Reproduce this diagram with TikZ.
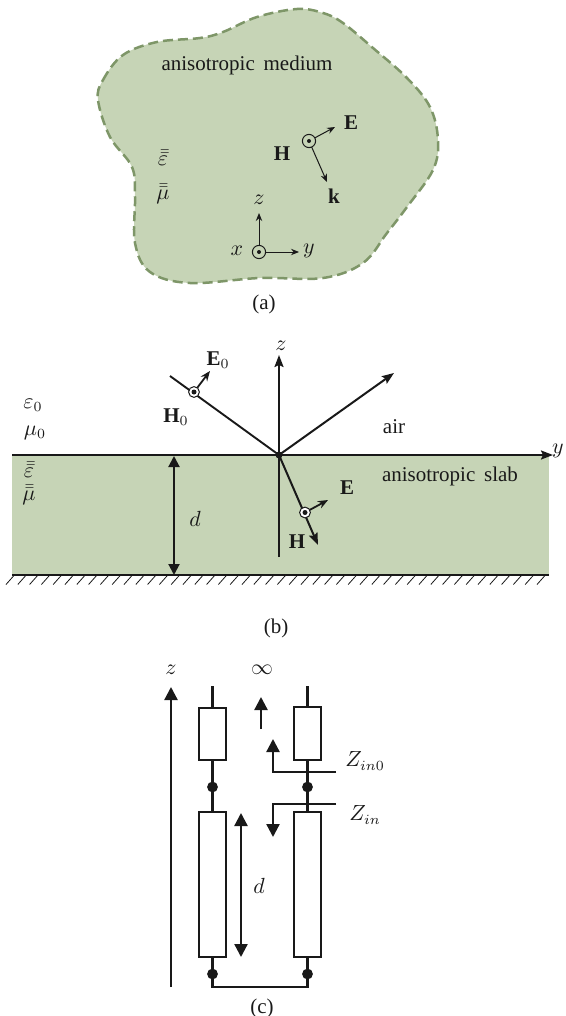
\documentclass[tikz,border=0pt]{standalone}
\usepackage{amsmath}
\usepackage{fontspec}
\setmainfont{Liberation Serif}
\usetikzlibrary{arrows.meta}
\definecolor{slab}{RGB}{198,212,182}
\definecolor{dashc}{RGB}{126,150,104}
\definecolor{ink}{RGB}{25,25,25}
\newcommand{\dbar}[1]{\bar{\bar{#1}}}
\tikzset{
  x=0.5pt,y=-0.5pt,
  lab/.style={inner sep=0pt,text=ink,font=\fontsize{10.5}{12}\selectfont},
  thinar/.style={draw=ink,line width=0.5pt,-{Stealth[length=4pt,width=3.2pt]}},
  medar/.style={draw=ink,line width=0.9pt,-{Stealth[length=5pt,width=4pt]}},
  bigar/.style={draw=ink,line width=1pt,-{Stealth[length=6pt,width=4.5pt,inset=1pt]}},
  fatar/.style={draw=ink,line width=1.15pt,-{Triangle[length=6.5pt,width=6.5pt]}},
  bothar/.style={draw=ink,line width=1pt,{Triangle[length=5.5pt,width=5.5pt]}-{Triangle[length=5.5pt,width=5.5pt]}},
  fatboth/.style={draw=ink,line width=1.15pt,{Triangle[length=6.5pt,width=6.5pt]}-{Triangle[length=6.5pt,width=6.5pt]}},
  wire/.style={draw=ink,line width=1.2pt},
  res/.style={draw=ink,line width=1.2pt,fill=white,inner sep=0pt,outer sep=0pt,minimum width=13.5pt},
  dotc/.style={circle,fill=ink,inner sep=0pt,outer sep=0pt,minimum size=5.4pt},
  ringa/.style={circle,draw=ink,line width=0.5pt,inner sep=0pt,outer sep=0pt,minimum size=6.6pt},
  ringb/.style={circle,draw=ink,line width=0.5pt,fill=white,inner sep=0pt,outer sep=0pt,minimum size=5.4pt},
  centre/.style={circle,fill=ink,inner sep=0pt,minimum size=2pt},
}
\begin{document}
\begin{tikzpicture}
\useasboundingbox (0,0) rectangle (566,1016);
% ---------- (a)
\draw[fill=slab,draw=dashc,line width=1.25pt,dash pattern=on 5pt off 2.5pt]
 plot[smooth cycle,tension=0.6] coordinates {
 (98,100) (103,80) (123,55) (157,42) (200,38) (223,32) (257,17) (297,9) (323,13) (343,23)
 (373,48) (407,78) (430,107) (438,140) (433,170) (407,207) (387,233) (363,263) (323,278) (260,278)
 (190,283) (150,272) (135,243) (135,197) (132,167) (110,137)};
\node[lab] (amed) at (247,65) {anisotropic\, medium};
\node[lab] (aeps) at (163,158) {$\dbar{\varepsilon}$};
\node[lab] (amu) at (163,194) {$\dbar{\mu}$};
\node[ringa] (ah) at (309,141) {};
\node[centre] at (ah) {};
\coordinate (aE) at (335,127);
\coordinate (ak) at (327,182);
\draw[thinar] (ah) -- (aE);
\draw[thinar] (ah) -- (ak);
\node[lab] (aEl) at (351,123) {$\mathbf{E}$};
\node[lab] (aHl) at (282,154) {$\mathbf{H}$};
\node[lab] (akl) at (334,196) {$\mathbf{k}$};
\node[ringa] (ax) at (259,252) {};
\node[centre] at (ax) {};
\coordinate (az) at (259,213);
\coordinate (ay) at (299,252);
\draw[thinar] (ax) -- (az);
\draw[thinar] (ax) -- (ay);
\node[lab] (azl) at (259,200) {$z$};
\node[lab] (ayl) at (309,251) {$y$};
\node[lab] (axl) at (237,251) {$x$};
\node[lab] (capa) at (264,304) {(a)};
% ---------- (b)
\fill[slab] (12,455) rectangle (549,575);
\coordinate (gl) at (12,575);
\coordinate (gr) at (549,575);
\draw[draw=ink,line width=0.8pt] (gl) -- (gr);
\foreach \i in {0,...,45} {
  \draw[draw=ink,line width=0.4pt] ({14+11.8*\i},575.5) -- ++(-8,9);
}
\coordinate (yl) at (12,455);
\coordinate (yr) at (553,455);
\coordinate (O) at (279,455);
\draw[bigar] (yl) -- (yr);
\coordinate (zt) at (279,355);
\coordinate (zb) at (279,557);
\draw[bigar] (zb) -- (zt);
\coordinate (inc) at (170,376);
\coordinate (refl) at (394,373);
\coordinate (trans) at (318,545);
\draw[wire,line width=0.95pt] (inc) -- (O);
\draw[bigar] (O) -- (refl);
\draw[bigar] (O) -- (trans);
\node[circle,fill=ink,inner sep=0pt,minimum size=3.5pt] at (O) {};
\node[ringb] (h0) at (194,392) {};
\node[centre,minimum size=2.5pt] at (h0) {};
\coordinate (e0) at (210,371);
\draw[medar] (h0) -- (e0);
\node[ringb] (h1) at (305,512.5) {};
\node[centre,minimum size=2.5pt] at (h1) {};
\coordinate (e1) at (328,500);
\draw[medar] (h1) -- (e1);
\coordinate (dt) at (174,456);
\coordinate (db) at (174,575);
\draw[bothar] (dt) -- (db);
\node[lab] (bz) at (281,346) {$z$};
\node[lab] (by) at (558,451) {$y$};
\node[lab] (bE0) at (218,360) {$\mathbf{E}_0$};
\node[lab] (bH0) at (176,417) {$\mathbf{H}_0$};
\node[lab] (be0) at (33,405) {$\varepsilon_0$};
\node[lab] (bm0) at (35,433) {$\mu_0$};
\node[lab] (bair) at (394,427) {air};
\node[lab] (bslab) at (450,476) {anisotropic\, slab};
\node[lab] (beps) at (29,470) {$\dbar{\varepsilon}$};
\node[lab] (bmu) at (29,495) {$\dbar{\mu}$};
\node[lab] (bd) at (195,519) {$d$};
\node[lab] (bE) at (347,488) {$\mathbf{E}$};
\node[lab] (bH) at (297,542) {$\mathbf{H}$};
\node[lab] (capb) at (276,628) {(b)};
% ---------- (c)
\coordinate (cz0) at (171,987);
\coordinate (cz1) at (171,687);
\draw[fatar] (cz0) -- (cz1);
\node[lab] (cz) at (171,670) {$z$};
\node[lab] (cinf) at (262,670) {$\infty$};
% left column
\coordinate (lt) at (212.5,686);
\node[res,minimum height=26pt] (r1) at (212.5,734) {};
\node[dotc] (d1) at (212.5,787) {};
\node[res,minimum height=72.5pt] (r2) at (212.5,884.5) {};
\node[dotc] (d2) at (212.5,974) {};
\coordinate (lb) at (212.5,987);
\draw[wire] (lt) -- (r1.north);
\draw[wire] (r1.south) -- (d1.center) -- (r2.north);
\draw[wire] (r2.south) -- (d2.center);
% right column
\coordinate (rt) at (307.5,686);
\node[res,minimum height=26.5pt] (r3) at (307.5,733.5) {};
\node[dotc] (d3) at (307.5,787) {};
\node[res,minimum height=72.5pt] (r4) at (307.5,884.5) {};
\node[dotc] (d4) at (307.5,974) {};
\coordinate (rb) at (307.5,987);
\draw[wire] (rt) -- (r3.north);
\draw[wire] (r3.south) -- (d3.center) -- (r4.north);
\draw[wire] (r4.south) -- (d4.center);
\draw[wire] (d2.center) -- (lb) -- (rb) -- (d4.center);
% arrows
\coordinate (u0) at (261,729);
\coordinate (u1) at (261,697);
\draw[fatar] (u0) -- (u1);
\coordinate (a0) at (336,772);
\coordinate (a1) at (273,772);
\coordinate (a2) at (273,739);
\draw[fatar] (a0) -- (a1) -- (a2);
\coordinate (b0) at (336,804);
\coordinate (b1) at (273,804);
\coordinate (b2) at (273,837);
\draw[fatar] (b0) -- (b1) -- (b2);
\coordinate (dd0) at (241,813);
\coordinate (dd1) at (241,957);
\draw[fatboth] (dd0) -- (dd1);
\node[lab] (cd) at (259,886) {$d$};
\node[lab] (z0) at (365,761) {$Z_{in0}$};
\node[lab] (z1) at (365,815) {$Z_{in}$};
\node[lab] (capc) at (262,1008) {(c)};
\end{tikzpicture}
\end{document}
